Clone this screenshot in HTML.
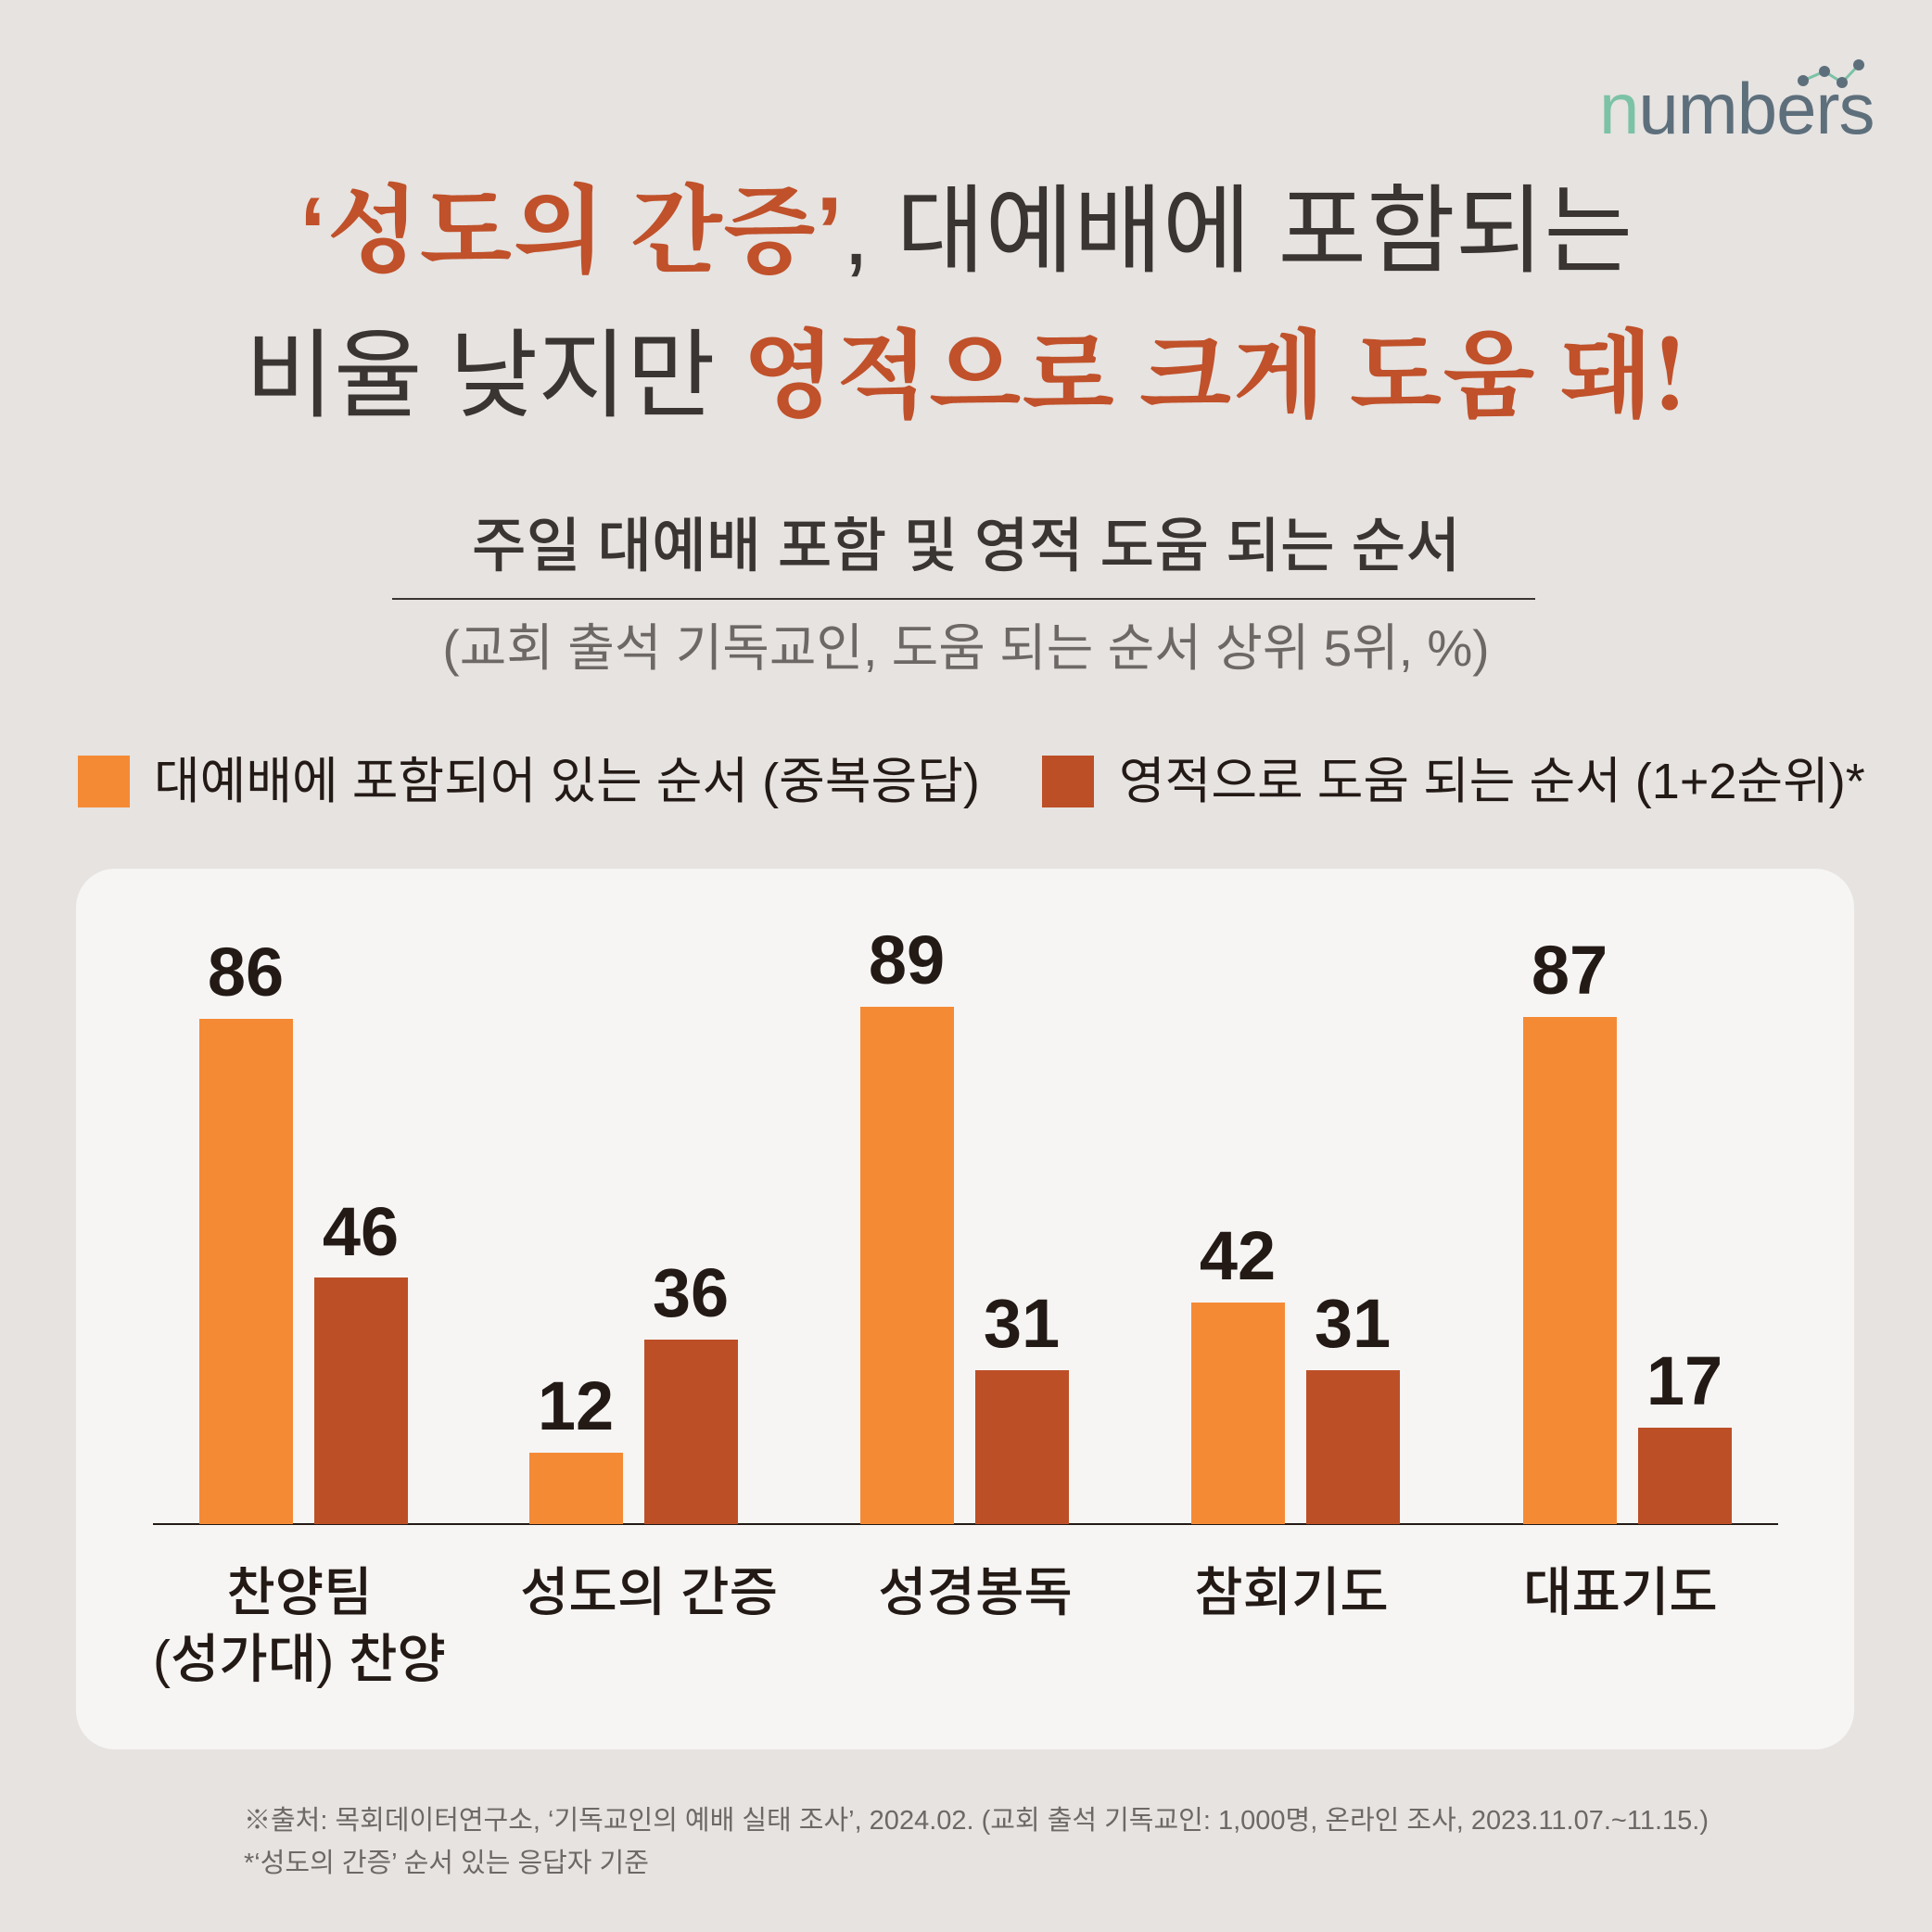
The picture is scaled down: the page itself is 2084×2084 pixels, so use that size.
<!DOCTYPE html>
<html><head><meta charset="utf-8"><style>
*{margin:0;padding:0;box-sizing:border-box}
body{width:2084px;height:2084px;background:#e6e3e1;position:relative;overflow:hidden;font-family:"Liberation Sans","Noto Sans CJK KR",sans-serif;color:#3a3533}
.a{position:absolute;white-space:nowrap}
.c{transform:translateX(-50%);text-align:center}
.r{color:#c0512a;font-weight:700;font-family:"Noto Serif CJK SC","Noto Sans CJK KR",serif}
.bar{position:absolute;width:101px}
.o{background:#f58a35}.d{background:#bd4f27}
.v{position:absolute;font-size:74px;font-weight:700;color:#231a16;transform:translateX(-50%);line-height:1}
.cat{position:absolute;font-size:57px;font-weight:500;color:#231a16;transform:translateX(-50%);text-align:center;line-height:72px}
</style></head><body>
<div class="a" style="left:1725px;top:78px;font-size:78px;color:#5e6f7c;letter-spacing:-1px;line-height:1"><span style="color:#7cc2a6">n</span>umbers</div>
<svg class="a" style="left:1935px;top:62px" width="80" height="50"><polyline points="10,25 33,15 52,27 70,8" stroke="#7cc2a6" stroke-width="3" fill="none"/><circle cx="10" cy="25" r="6" fill="#5e6f7c"/><circle cx="33" cy="15" r="6" fill="#5e6f7c"/><circle cx="52" cy="27" r="6" fill="#5e6f7c"/><circle cx="70" cy="8" r="6" fill="#5e6f7c"/></svg>

<div class="a c" style="left:1042px;top:178px;font-size:104px;line-height:124px;font-weight:400"><span class="r"><span style="font-family:'Liberation Sans',sans-serif">‘</span>성도의 간증<span style="font-family:'Liberation Sans',sans-serif">’</span></span>, 대예배에 포함되는</div>
<div class="a c" style="left:1042px;top:334px;font-size:104px;line-height:124px;font-weight:400">비율 낮지만 <span class="r">영적으로 크게 도움 돼!</span></div>

<div class="a c" style="left:1042px;top:552px;font-size:64px;line-height:74px;font-weight:500">주일 대예배 포함 및 영적 도움 되는 순서</div>
<div class="a" style="left:423px;top:645px;width:1233px;height:2px;background:#3a3533"></div>
<div class="a c" style="left:1042px;top:667px;font-size:55px;line-height:64px;color:#6d6866">(교회 출석 기독교인, 도움 되는 순서 상위 5위, %)</div>

<div class="a o" style="left:84px;top:815px;width:56px;height:56px;background:#f58a35"></div>
<div class="a" style="left:166px;top:810px;font-size:54px;line-height:66px;color:#231a16">대예배에 포함되어 있는 순서 (중복응답)</div>
<div class="a" style="left:1124px;top:815px;width:56px;height:56px;background:#bd4f27"></div>
<div class="a" style="left:1207px;top:810px;font-size:54px;line-height:66px;color:#231a16">영적으로 도움 되는 순서 (1+2순위)*</div>

<div class="a" style="left:82px;top:937px;width:1918px;height:950px;background:#f6f5f4;border-radius:42px"></div>
<div class="a" style="left:165px;top:1643px;width:1753px;height:2px;background:#231a16"></div>

<div class="bar o" style="left:215px;top:1099px;height:545px"></div>
<div class="bar d" style="left:339px;top:1378px;height:266px"></div>
<div class="bar o" style="left:571px;top:1567px;height:77px"></div>
<div class="bar d" style="left:695px;top:1445px;height:199px"></div>
<div class="bar o" style="left:928px;top:1086px;height:558px"></div>
<div class="bar d" style="left:1052px;top:1478px;height:166px"></div>
<div class="bar o" style="left:1285px;top:1405px;height:239px"></div>
<div class="bar d" style="left:1409px;top:1478px;height:166px"></div>
<div class="bar o" style="left:1643px;top:1097px;height:547px"></div>
<div class="bar d" style="left:1767px;top:1540px;height:104px"></div>

<div class="v" style="left:265px;top:1012px">86</div>
<div class="v" style="left:389px;top:1292px">46</div>
<div class="v" style="left:621px;top:1480px">12</div>
<div class="v" style="left:745px;top:1358px">36</div>
<div class="v" style="left:978px;top:999px">89</div>
<div class="v" style="left:1102px;top:1391px">31</div>
<div class="v" style="left:1335px;top:1318px">42</div>
<div class="v" style="left:1459px;top:1391px">31</div>
<div class="v" style="left:1693px;top:1010px">87</div>
<div class="v" style="left:1817px;top:1453px">17</div>

<div class="cat" style="left:323px;top:1682px">찬양팀<br>(성가대) 찬양</div>
<div class="cat" style="left:700px;top:1682px">성도의 간증</div>
<div class="cat" style="left:1052px;top:1682px">성경봉독</div>
<div class="cat" style="left:1393px;top:1682px">참회기도</div>
<div class="cat" style="left:1748px;top:1682px">대표기도</div>

<div class="a" style="left:263px;top:1945px;font-size:29px;line-height:38px;color:#6d6866">※출처: 목회데이터연구소, ‘기독교인의 예배 실태 조사’, 2024.02. (교회 출석 기독교인: 1,000명, 온라인 조사, 2023.11.07.~11.15.)</div>
<div class="a" style="left:263px;top:1991px;font-size:29px;line-height:38px;color:#6d6866">*‘성도의 간증’ 순서 있는 응답자 기준</div>
</body></html>
